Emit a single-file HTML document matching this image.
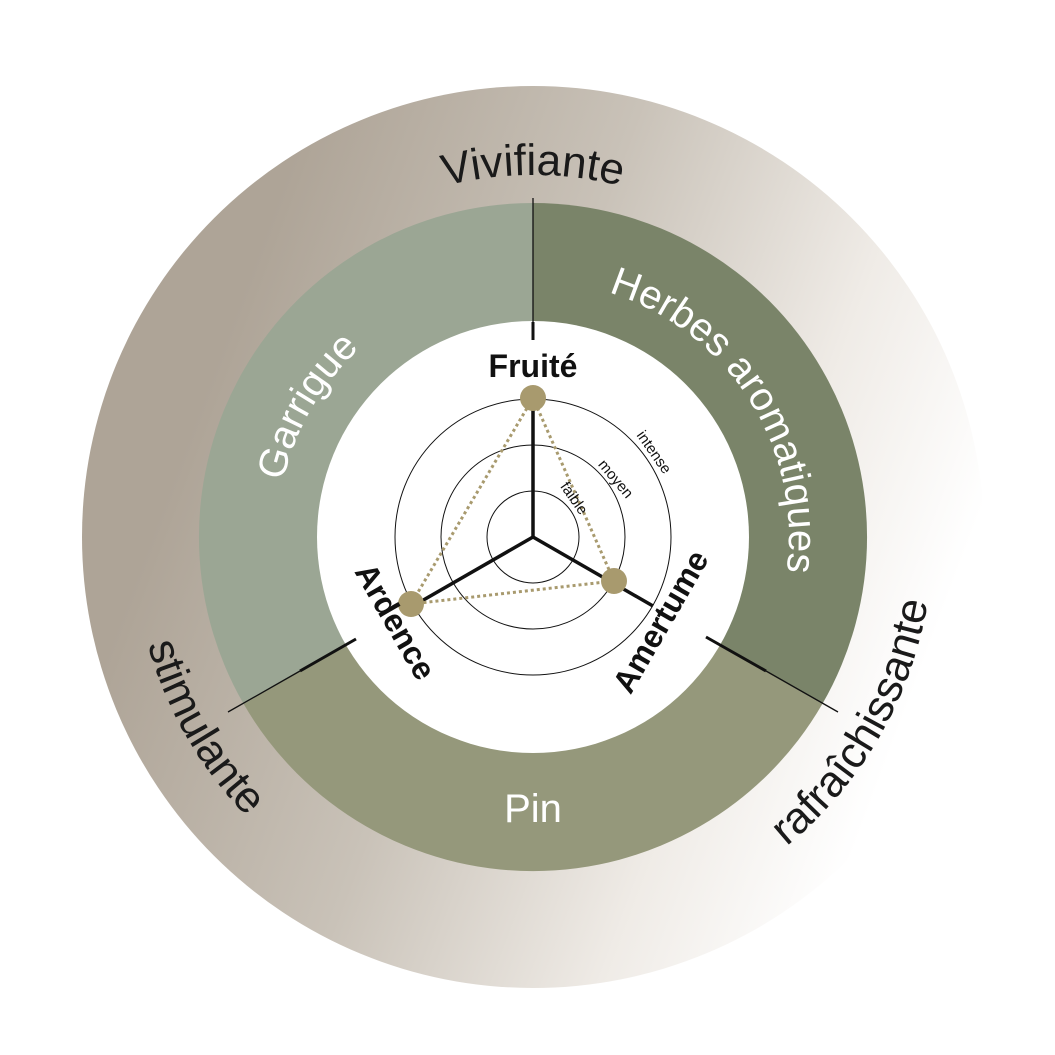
<!DOCTYPE html>
<html><head><meta charset="utf-8"><style>html,body{margin:0;padding:0;background:#fff}svg{display:block}</style></head>
<body>
<svg width="1055" height="1055" viewBox="0 0 1055 1055" xmlns="http://www.w3.org/2000/svg" font-family="Liberation Sans, sans-serif">
<defs>
<linearGradient id="g" x1="0.15" y1="0.3" x2="0.95" y2="0.6">
<stop offset="0" stop-color="#aea497"/>
<stop offset="0.4" stop-color="#c9c2b8"/>
<stop offset="0.75" stop-color="#efebe6"/>
<stop offset="1" stop-color="#ffffff"/>
</linearGradient>
<path id="pViv" d="M 219.5 356 A 362 362 0 0 1 846.5 356"/>
<path id="pGar" d="M 292.4 624.6 A 256 256 0 0 1 488.5 284.9"/>
<path id="pHer" d="M 533 281 A 256 256 0 0 1 765 645"/>
<path id="pSti" d="M 186.6 337 A 400 400 0 0 0 533 937"/>
<path id="pRaf" d="M 533 937 A 400 400 0 0 0 879.4 337"/>
</defs>
<circle cx="533" cy="537" r="451" fill="url(#g)"/>
<path d="M533 537 L533 203 A334 334 0 0 0 243.7 704 Z" fill="#9ba694"/>
<path d="M533 537 L533 203 A334 334 0 0 1 822.3 704 Z" fill="#7a8469"/>
<path d="M533 537 L243.7 704 A334 334 0 0 0 822.3 704 Z" fill="#95987b"/>
<circle cx="533" cy="537" r="216" fill="#fff"/>
<g fill="none" stroke="#111" stroke-width="1">
<circle cx="533" cy="537" r="46"/><circle cx="533" cy="537" r="92"/><circle cx="533" cy="537" r="138"/>
</g>
<g stroke="#111" stroke-linecap="butt">
<line x1="533" y1="198" x2="533" y2="322" stroke-width="1.3"/>
<line x1="533" y1="322" x2="533" y2="340" stroke-width="3"/>
<line x1="228" y1="712" x2="300" y2="671" stroke-width="1.3"/>
<line x1="300" y1="671" x2="356" y2="639" stroke-width="3"/>
<line x1="838" y1="712" x2="766" y2="671" stroke-width="1.3"/>
<line x1="766" y1="671" x2="706" y2="637" stroke-width="3"/>
<line x1="533" y1="537" x2="533" y2="400" stroke-width="3.5"/>
<line x1="533" y1="537" x2="413" y2="606" stroke-width="3.5"/>
<line x1="533" y1="537" x2="653" y2="606" stroke-width="3.5"/>
</g>
<polygon points="533,398 411,604 614,581" fill="none" stroke="#a89a6e" stroke-width="3" stroke-dasharray="3,3"/>
<g fill="#a89a6e"><circle cx="533" cy="398" r="13"/><circle cx="411" cy="604" r="13"/><circle cx="614" cy="581" r="13"/></g>
<g fill="#1a1a1a" font-size="44" font-weight="300">
<text><textPath href="#pViv" startOffset="50%" text-anchor="middle">Vivifiante</textPath></text>
<text><textPath href="#pSti" startOffset="50%" text-anchor="middle">stimulante</textPath></text>
<text><textPath href="#pRaf" startOffset="50%" text-anchor="middle">rafraîchissante</textPath></text>
</g>
<g fill="#fff" font-size="40" font-weight="300">
<text><textPath href="#pGar" startOffset="50%" text-anchor="middle">Garrigue</textPath></text>
<text><textPath href="#pHer" startOffset="50%" text-anchor="middle">Herbes aromatiques</textPath></text>
<text x="533" y="822" text-anchor="middle">Pin</text>
</g>
<g fill="#111" font-size="32" font-weight="bold">
<text x="533" y="377" text-anchor="middle">Fruité</text>
<text transform="translate(386,627) rotate(60)" text-anchor="middle">Ardence</text>
<text transform="translate(670,627) rotate(-60)" text-anchor="middle">Amertume</text>
</g>
<g fill="#111" font-size="15">
<text transform="translate(650,455) rotate(55)" text-anchor="middle">intense</text>
<text transform="translate(612,482) rotate(50)" text-anchor="middle">moyen</text>
<text transform="translate(570,501) rotate(55)" text-anchor="middle">faible</text>
</g>
</svg>
</body></html>
